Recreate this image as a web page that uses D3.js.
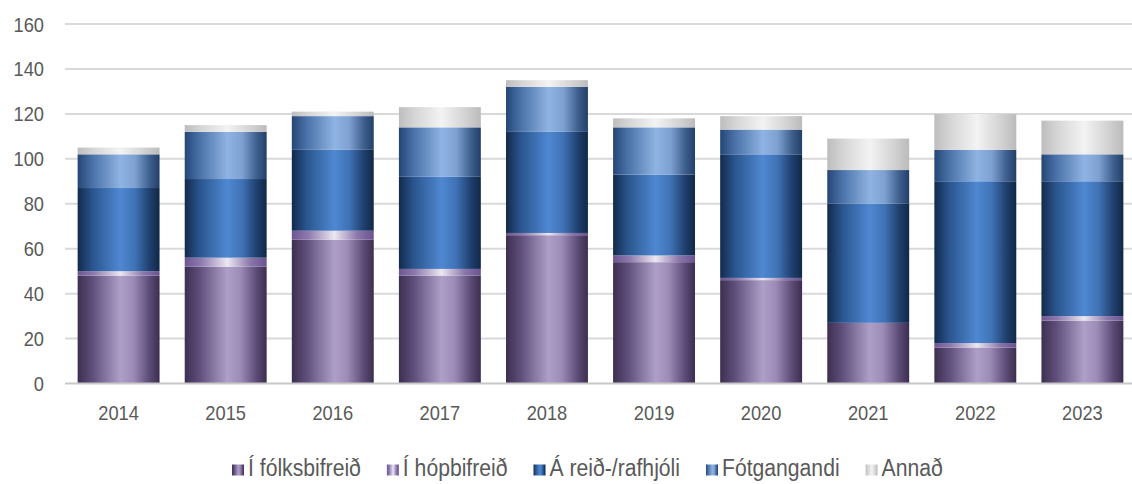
<!DOCTYPE html>
<html>
<head>
<meta charset="utf-8">
<script src="https://cdn.jsdelivr.net/npm/d3@7"></script>
<style>
  html, body { margin: 0; padding: 0; background: #fff; }
  svg { display: block; }
  text { font-family: "Liberation Sans", Arial, sans-serif; fill: #595959; }
</style>
</head>
<body>
<svg id="chart" width="1132" height="484"></svg>
<script>
const years = ["2014","2015","2016","2017","2018","2019","2020","2021","2022","2023"];
const seriesNames = ["Í fólksbifreið","Í hópbifreið","Á reið-/rafhjóli","Fótgangandi","Annað"];
const folksbifreid = [48, 52, 64, 48, 66, 54, 46, 27, 16, 28];
const hopbifreid   = [ 2,  4,  4,  3,  1,  3,  1,  0,  2,  2];
const reidhjol     = [37, 35, 36, 41, 45, 36, 55, 53, 72, 60];
const fotgangandi  = [15, 21, 15, 22, 20, 21, 11, 15, 14, 12];
const annad        = [ 3,  3,  2,  9,  3,  4,  6, 14, 16, 15];
const yTicks = [0, 20, 40, 60, 80, 100, 120, 140, 160];

const seriesValues = [folksbifreid, hopbifreid, reidhjol, fotgangandi, annad];
const gradStops = [
  [["0%","#3d2f50"],["18%","#5f4e7b"],["52%","#ae9fc8"],["68%","#9c8bb7"],["88%","#5b4a75"],["100%","#3c2e4f"]],
  [["0%","#6e5592"],["20%","#8f7aae"],["52%","#ece7f2"],["80%","#8c77ab"],["100%","#6a5290"]],
  [["0%","#122a4c"],["18%","#2a558e"],["52%","#4f88d2"],["70%","#3f72b5"],["88%","#1f3f6d"],["100%","#112847"]],
  [["0%","#254676"],["18%","#4a72a8"],["52%","#8fb3e2"],["70%","#7ea1d2"],["88%","#3e5f8d"],["100%","#223f68"]],
  [["0%","#bdbdbd"],["20%","#d6d6d6"],["52%","#f3f3f3"],["80%","#d4d4d4"],["100%","#bbbbbb"]]
];

const svg = d3.select("#chart");
const defs = svg.append("defs");
gradStops.forEach((stops, i) => {
  const g = defs.append("linearGradient").attr("id", "g" + i)
    .attr("x1", "0").attr("x2", "1").attr("y1", "0").attr("y2", "0");
  stops.forEach(s => g.append("stop").attr("offset", s[0]).attr("stop-color", s[1]));
});

const x = d3.scaleBand().domain(years).range([65, 1136]).paddingInner(0.235).paddingOuter(0.118);
const y = d3.scaleLinear().domain([0, 160]).range([383.5, 24]);

function squeeze(sel, f) {
  sel.each(function() {
    const w = this.getComputedTextLength();
    d3.select(this).attr("textLength", w * f).attr("lengthAdjust", "spacingAndGlyphs");
  });
}

// gridlines
svg.append("g").selectAll("line").data(yTicks.filter(t => t > 0)).join("line")
  .attr("x1", 65).attr("x2", 1132)
  .attr("y1", d => y(d)).attr("y2", d => y(d))
  .attr("stroke", "#d9d9d9").attr("stroke-width", 2);

// y labels
svg.append("g").selectAll("text").data(yTicks).join("text")
  .attr("x", 44).attr("y", d => y(d)).attr("dy", "0.36em")
  .attr("text-anchor", "end").attr("font-size", 21)
  .text(d => d).call(squeeze, 0.87);

// stacked data
const table = years.map((yr, i) => {
  const o = { year: yr };
  seriesNames.forEach((s, k) => o[s] = seriesValues[k][i]);
  return o;
});
const stack = d3.stack().keys(seriesNames)(table);

svg.append("g").selectAll("g").data(stack).join("g")
  .attr("fill", (d, i) => `url(#g${i})`)
  .selectAll("rect").data(d => d).join("rect")
  .attr("x", d => x(d.data.year))
  .attr("width", x.bandwidth())
  .attr("y", d => y(d[1]))
  .attr("height", d => Math.max(0, y(d[0]) - y(d[1])));

// x axis line
svg.append("line").attr("x1", 65).attr("x2", 1132).attr("y1", 383.5).attr("y2", 383.5)
  .attr("stroke", "#c8c8c8").attr("stroke-width", 2);

// x labels
svg.append("g").selectAll("text").data(years).join("text")
  .attr("x", d => x(d) + x.bandwidth() / 2).attr("y", 419.5)
  .attr("text-anchor", "middle").attr("font-size", 21)
  .text(d => d).call(squeeze, 0.87);

// legend
const lg = svg.append("g");
const items = lg.selectAll("g").data(seriesNames).join("g");
items.append("rect").attr("x", 0).attr("y", 464.5).attr("width", 12).attr("height", 11)
  .attr("fill", (d, i) => `url(#g${i})`);
items.append("text").attr("x", 16).attr("y", 475.5).attr("font-size", 23.5)
  .text(d => d).call(squeeze, 0.9);
let cx = 0;
const gap = 26;
const offs = [];
items.each(function() {
  offs.push(cx);
  const w = +d3.select(this).select("text").attr("textLength");
  cx += 16 + w + gap;
});
const shift = 706 - offs[3];
items.attr("transform", (d, i) => `translate(${offs[i] + shift},0)`);
</script>
</body>
</html>
